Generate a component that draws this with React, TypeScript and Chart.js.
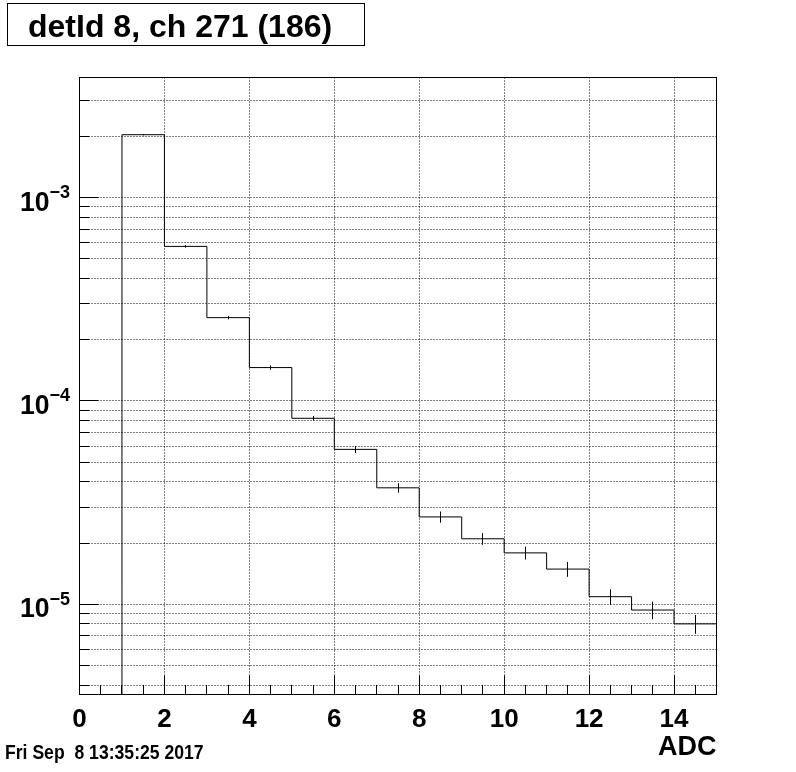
import React, { useEffect, useRef } from "react";
import { Chart, registerables } from "chart.js";

Chart.register(...registerables);

// ---------- data ----------
const titleText = "detId 8, ch 271 (186)";
const xAxisTitle = "ADC";
const dateStamp = "Fri Sep  8 13:35:25 2017";

const binLowEdges = [0, 1, 2, 3, 4, 5, 6, 7, 8, 9, 10, 11, 12, 13, 14];
const binWidth = 1;
const binValues = [
  0, 2.04e-3, 5.76e-4, 2.57e-4, 1.46e-4, 8.22e-5, 5.78e-5, 3.74e-5, 2.69e-5,
  2.1e-5, 1.79e-5, 1.49e-5, 1.09e-5, 9.37e-6, 8.01e-6,
];
const binErrors = [
  0, 1.5e-5, 8e-6, 5e-6, 3.6e-6, 2.1e-6, 2.3e-6, 2.0e-6, 1.7e-6, 1.4e-6,
  1.3e-6, 1.25e-6, 0.95e-6, 0.93e-6, 0.85e-6,
];

const xMin = 0;
const xMax = 15;
const yMin = 3.6e-6;
const yMax = 3.9e-3;

const xMajorTicks = [0, 2, 4, 6, 8, 10, 12, 14];
const xTickLabels = ["0", "2", "4", "6", "8", "10", "12", "14"];
const xMinorStep = 0.5;
const yDecades = [1e-3, 1e-4, 1e-5];
const yDecadeExponents = ["\u22123", "\u22124", "\u22125"];

// ---------- drawing helpers ----------
const FONT = "'Liberation Sans', Arial, Helvetica, sans-serif";

function seg(ctx: CanvasRenderingContext2D, x1: number, y1: number, x2: number, y2: number) {
  ctx.beginPath();
  ctx.moveTo(x1, y1);
  ctx.lineTo(x2, y2);
  ctx.stroke();
}

function txt(
  ctx: CanvasRenderingContext2D,
  s: string,
  x: number,
  y: number,
  font: string,
  align: CanvasTextAlign,
  sx = 1
) {
  ctx.save();
  ctx.font = font;
  ctx.textAlign = align;
  ctx.textBaseline = "alphabetic";
  ctx.fillStyle = "#000";
  ctx.translate(x, y);
  ctx.scale(sx, 1);
  ctx.fillText(s, 0, 0);
  ctx.restore();
}

function yGridValues(): number[] {
  const out: number[] = [];
  for (let e = -8; e <= 1; e++) {
    for (let m = 1; m <= 9; m++) {
      const v = m * Math.pow(10, e);
      if (v >= yMin && v <= yMax) out.push(v);
    }
  }
  return out;
}

const px = (p: number) => Math.floor(p) + 0.5;

const rootStylePlugin = {
  id: "rootStyle",
  beforeDraw(chart: any) {
    const ctx = chart.ctx as CanvasRenderingContext2D;
    ctx.save();
    ctx.fillStyle = "#fff";
    ctx.fillRect(0, 0, chart.width, chart.height);
    ctx.restore();
  },
  beforeDatasetsDraw(chart: any) {
    const ctx = chart.ctx as CanvasRenderingContext2D;
    const a = chart.chartArea;
    const xs = chart.scales.x;
    const ys = chart.scales.y;
    ctx.save();
    ctx.strokeStyle = "#000";
    ctx.lineWidth = 1;
    ctx.setLineDash([1, 2]);
    for (const v of yGridValues()) {
      const p = px(ys.getPixelForValue(v));
      seg(ctx, a.left, p, a.right, p);
    }
    for (const v of xMajorTicks) {
      if (v <= xMin || v >= xMax) continue;
      const p = px(xs.getPixelForValue(v));
      seg(ctx, p, a.top, p, a.bottom);
    }
    ctx.restore();
  },
  afterDatasetsDraw(chart: any) {
    const ctx = chart.ctx as CanvasRenderingContext2D;
    const a = chart.chartArea;
    const xs = chart.scales.x;
    const ys = chart.scales.y;
    ctx.save();
    ctx.strokeStyle = "#000";
    ctx.lineWidth = 1;
    ctx.setLineDash([]);

    // error bars
    binLowEdges.forEach((lo, i) => {
      const v = binValues[i];
      const e = binErrors[i];
      if (!(v > 0) || !(e > 0)) return;
      const cx = px(xs.getPixelForValue(lo + binWidth / 2));
      const y1 = ys.getPixelForValue(v - e);
      const y2 = ys.getPixelForValue(v + e);
      seg(ctx, cx, Math.min(y1, a.bottom), cx, Math.max(y2, a.top));
    });

    // frame
    ctx.strokeRect(a.left, a.top, a.right - a.left, a.bottom - a.top);

    // y ticks
    const decadeSet = new Set(yDecades.map((d) => d.toExponential(3)));
    for (const v of yGridValues()) {
      const p = px(ys.getPixelForValue(v));
      const major = decadeSet.has(v.toExponential(3));
      seg(ctx, a.left, p, a.left + (major ? 19 : 10), p);
    }
    // x ticks
    const nMinor = Math.round((xMax - xMin) / xMinorStep);
    for (let k = 1; k < nMinor; k++) {
      const v = xMin + k * xMinorStep;
      const p = px(xs.getPixelForValue(v));
      const major = xMajorTicks.includes(v);
      seg(ctx, p, a.bottom, p, a.bottom - (major ? 19 : 9.5));
    }

    // x tick labels
    xMajorTicks.forEach((v, i) => {
      txt(ctx, xTickLabels[i], xs.getPixelForValue(v), 727, `bold 26px ${FONT}`, "center");
    });

    // y tick labels: 10^{exp}
    yDecades.forEach((v, i) => {
      const p = ys.getPixelForValue(v);
      txt(ctx, "10", 49.5, p + 13, `bold 28px ${FONT}`, "right", 0.95);
      txt(ctx, yDecadeExponents[i], 49.5, p + 0.5, `bold 18px ${FONT}`, "left");
    });

    // axis title
    txt(ctx, xAxisTitle, a.right, 754.5, `bold 27px ${FONT}`, "right");

    // date stamp
    txt(ctx, dateStamp, 5, 759, `bold 20px ${FONT}`, "left", 0.88);

    // title box
    ctx.fillStyle = "#fff";
    ctx.fillRect(7.5, 3.5, 357, 42);
    ctx.strokeRect(7.5, 3.5, 357, 42);
    txt(ctx, titleText, 28, 37, `bold 32px ${FONT}`, "left");

    ctx.restore();
  },
};

export default function App() {
  const canvasRef = useRef<HTMLCanvasElement | null>(null);

  useEffect(() => {
    const canvas = canvasRef.current;
    if (!canvas) return;
    const histPoints = binLowEdges.map((lo, i) => ({
      x: lo + binWidth,
      y: binValues[i] > 0 ? binValues[i] : yMin / 10,
    }));
    const chart = new Chart(canvas, {
      type: "line",
      data: {
        datasets: [
          {
            data: histPoints,
            stepped: "after",
            borderColor: "#000",
            borderWidth: 1,
            pointRadius: 0,
            fill: false,
            tension: 0,
          } as any,
        ],
      },
      options: {
        animation: false,
        responsive: false,
        devicePixelRatio: 1,
        events: [],
        layout: { padding: { left: 79.5, top: 77.5, right: 79.5, bottom: 77.5 } },
        plugins: { legend: { display: false }, tooltip: { enabled: false } },
        scales: {
          x: { type: "linear", min: xMin, max: xMax, display: false },
          y: { type: "logarithmic", min: yMin, max: yMax, display: false },
        },
      },
      plugins: [rootStylePlugin as any],
    });
    return () => chart.destroy();
  }, []);

  return (
    <div style={{ position: "absolute", left: 0, top: 0, width: 796, height: 772, background: "#fff" }}>
      <canvas ref={canvasRef} width={796} height={772} style={{ display: "block" }} />
    </div>
  );
}
